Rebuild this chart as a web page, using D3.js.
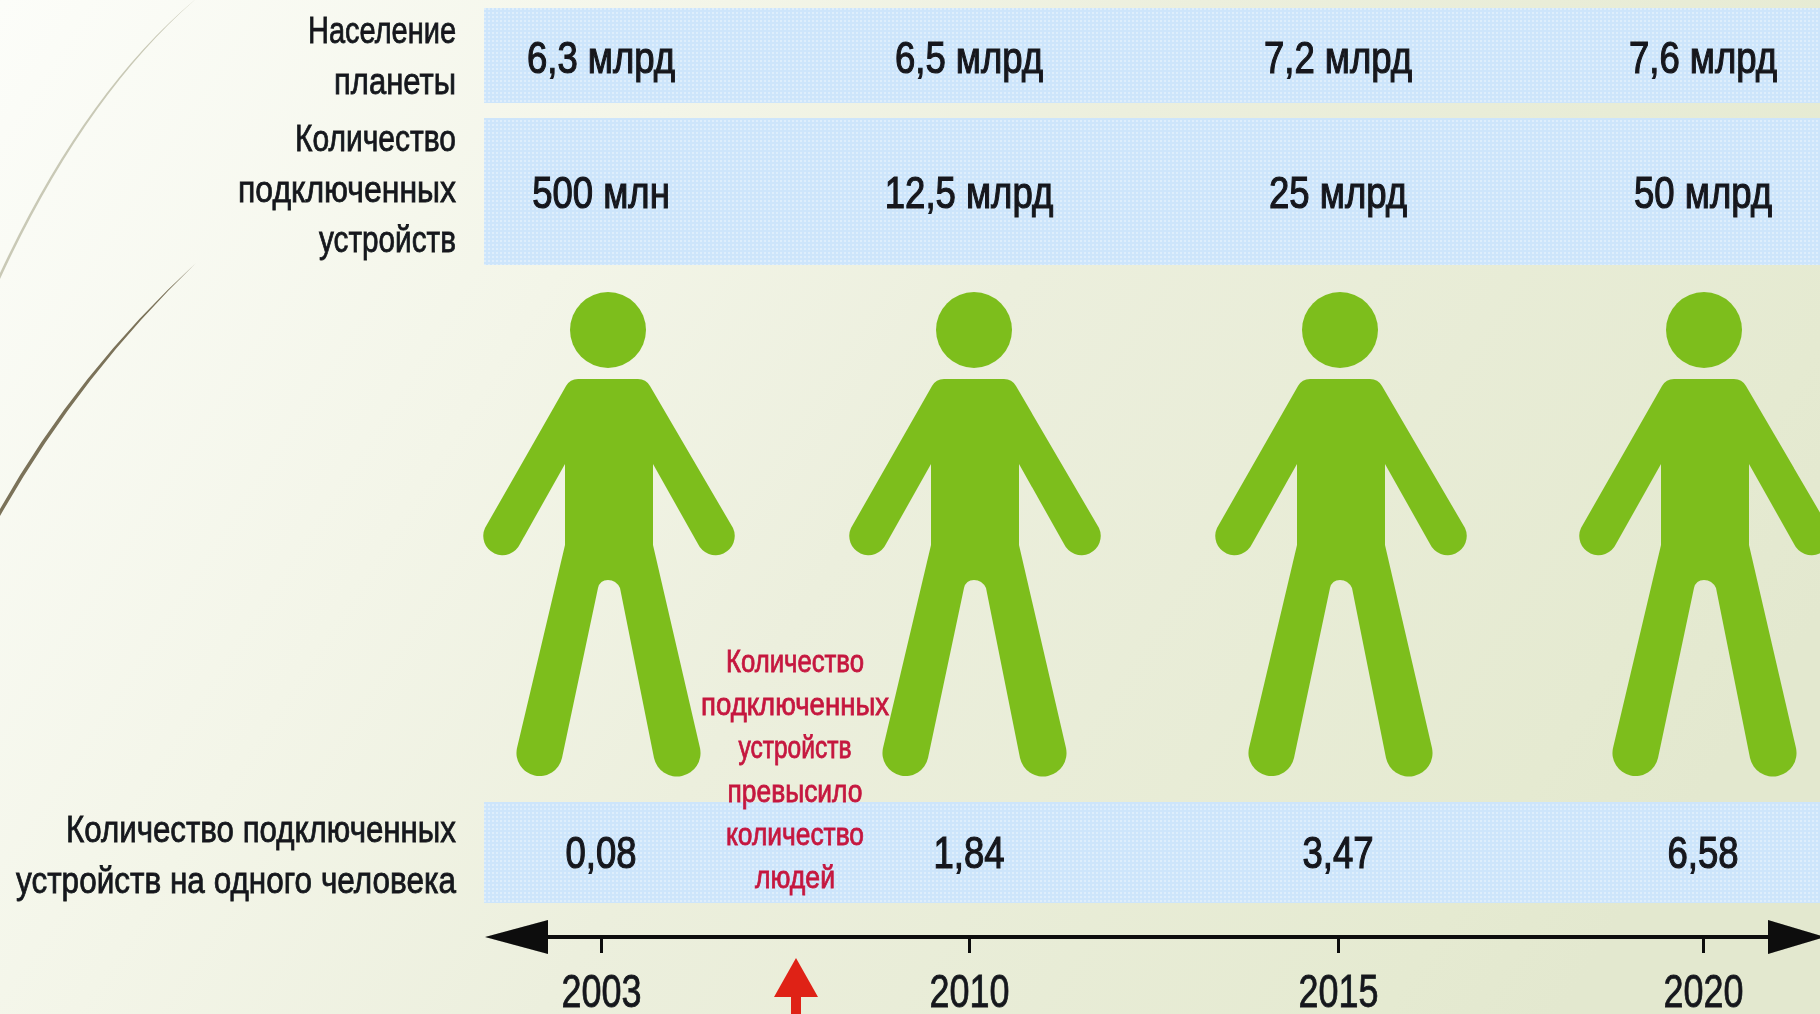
<!DOCTYPE html>
<html>
<head>
<meta charset="utf-8">
<script src="https://cdn.jsdelivr.net/npm/d3@7"></script>
<style>
  html, body { margin: 0; padding: 0; overflow: hidden; background: #f3f5e8; }
  text { font-family: "Liberation Sans", sans-serif; }
</style>
</head>
<body>
<script>
// Chart values
const years = ['2003', '2010', '2015', '2020'];
const population = ['6,3 млрд', '6,5 млрд', '7,2 млрд', '7,6 млрд'];
const devices = ['500 млн', '12,5 млрд', '25 млрд', '50 млрд'];
const perPerson = ['0,08', '1,84', '3,47', '6,58'];
const populationLabel = ['Население', 'планеты'];
const devicesLabel = ['Количество', 'подключенных', 'устройств'];
const perPersonLabel = ['Количество подключенных', 'устройств на одного человека'];
const crossoverNote = ['Количество', 'подключенных', 'устройств', 'превысило', 'количество', 'людей'];

const width = 1820;
const height = 1014;

const svg = d3.select('body')
  .append('svg')
  .attr('width', width)
  .attr('height', height)
  .style('display', 'block');

const defs = svg.append('defs');

// Page background
const bg = defs.append('linearGradient')
  .attr('id', 'bg')
  .attr('gradientUnits', 'userSpaceOnUse')
  .attr('x1', 0).attr('y1', 0)
  .attr('x2', 1560).attr('y2', 1014);
bg.append('stop').attr('offset', 0).attr('stop-color', '#fcfdf9');
bg.append('stop').attr('offset', 0.33).attr('stop-color', '#f3f5e8');
bg.append('stop').attr('offset', 0.54).attr('stop-color', '#ecefdd');
bg.append('stop').attr('offset', 0.92).attr('stop-color', '#e5ead1');
bg.append('stop').attr('offset', 1).attr('stop-color', '#e3e8cf');

// Dither of the blue bands
const dither = defs.append('pattern')
  .attr('id', 'dither')
  .attr('patternUnits', 'userSpaceOnUse')
  .attr('width', 4).attr('height', 4);
dither.append('rect').attr('width', 4).attr('height', 4).attr('fill', '#cde5fb');
dither.append('rect').attr('width', 2).attr('height', 2).attr('fill', '#deeefc');

// The source is an upscaled bitmap, so text and figures are a little soft
const soft = defs.append('filter').attr('id', 'soft')
  .attr('x', '-5%').attr('y', '-5%').attr('width', '110%').attr('height', '110%');
soft.append('feGaussianBlur').attr('stdDeviation', 0.7);

svg.append('rect')
  .attr('width', width)
  .attr('height', height)
  .attr('fill', 'url(#bg)');

// Decorative slide curves, top left
svg.append('path')
  .attr('d', 'M197,-2 Q85,95 0,279 L0,273 Q85,91 197,-2 Z')
  .attr('fill', '#c9c9b6');
svg.append('path')
  .attr('d', 'M196,263 Q80,375 0,516 L0,509 Q78,371 196,263 Z')
  .attr('fill', '#7b7259');

// Squeeze a text line to a width, there is no condensed font installed
function fit(sel, widthOf) {
  sel.attr('textLength', widthOf).attr('lengthAdjust', 'spacingAndGlyphs');
}

// Scales, the columns of the source are not quite evenly spaced
const xScale = d3.scaleOrdinal().domain(years).range([601, 969, 1338, 1703]);
const figureScale = d3.scaleOrdinal().domain(years).range([608, 974, 1340, 1704]);

// Table rows
const rows = [
  { id: 'population', top: 8, bottom: 103, baseline: 73, values: population, label: populationLabel,
    labelBase: [43, 94], labelWidth: [148, 122] },
  { id: 'devices', top: 118, bottom: 265, baseline: 208, values: devices, label: devicesLabel,
    labelBase: [151, 202, 252], labelWidth: [161, 218, 137] },
  { id: 'per-person', top: 802, bottom: 903, baseline: 868, values: perPerson, label: perPersonLabel,
    labelBase: [842, 893], labelWidth: [390, 440] }
];

// Bands stay outside the soft group so the dither survives
svg.selectAll('.band')
  .data(rows)
  .enter()
  .append('rect')
  .attr('class', 'band')
  .attr('x', 484)
  .attr('y', d => d.top)
  .attr('width', width - 484 + 10)
  .attr('height', d => d.bottom - d.top)
  .attr('fill', 'url(#dither)');

const chart = svg.append('g').attr('filter', 'url(#soft)');

rows.forEach(row => {
  chart.selectAll('.value-' + row.id)
    .data(row.values)
    .enter()
    .append('text')
    .attr('class', 'value-' + row.id)
    .attr('x', (d, i) => xScale(years[i]))
    .attr('y', row.baseline)
    .attr('text-anchor', 'middle')
    .attr('font-size', 44)
    .attr('fill', '#14181c')
    .attr('stroke', '#14181c')
    .attr('stroke-width', 1.2)
    .text(d => d)
    .each(function() {
      d3.select(this).call(fit, this.getComputedTextLength() * 0.83);
    });

  chart.selectAll('.label-' + row.id)
    .data(row.label)
    .enter()
    .append('text')
    .attr('class', 'label-' + row.id)
    .attr('x', 456)
    .attr('y', (d, i) => row.labelBase[i])
    .attr('text-anchor', 'end')
    .attr('font-size', 37)
    .attr('fill', '#14181c')
    .attr('stroke', '#14181c')
    .attr('stroke-width', 0.8)
    .text(d => d)
    .call(fit, (d, i) => row.labelWidth[i]);
});

// Person figures, path is relative to the centre of the head
const bodyPath = 'M-30,49 Q-38,49 -42,56 L-123,198 A19,19 0 0 0 -88,214 L-43,134 L-43,215 '
  + 'L-91,418 A23,23 0 0 0 -46,428 L-10,258 Q-8,250 0,250 Q8,250 12,258 L46,428 A23,23 0 0 0 92,418 L45,215 L45,134 '
  + 'L90,214 A19,19 0 0 0 125,198 L42,56 Q38,49 30,49 Z';

const figures = chart.selectAll('.figure')
  .data(years)
  .enter()
  .append('g')
  .attr('class', 'figure')
  .attr('transform', d => 'translate(' + figureScale(d) + ',330)')
  .attr('fill', '#7dbe1f');

figures.append('circle').attr('r', 38);
figures.append('path').attr('d', bodyPath);

// Red note about the crossover
const noteBase = [672, 715, 758, 802, 845, 888];
const noteWidth = [138, 188, 113, 135, 138, 80];
chart.selectAll('.note')
  .data(crossoverNote)
  .enter()
  .append('text')
  .attr('class', 'note')
  .attr('x', 795)
  .attr('y', (d, i) => noteBase[i])
  .attr('text-anchor', 'middle')
  .attr('font-size', 31)
  .attr('fill', '#c5163f')
  .attr('stroke', '#c5163f')
  .attr('stroke-width', 0.8)
  .text(d => d)
  .call(fit, (d, i) => noteWidth[i]);

// Time axis
const axisY = 937;
const xAxis = d3.axisBottom(xScale).tickSize(16).tickPadding(21);

const axisG = chart.append('g')
  .attr('transform', 'translate(0,' + axisY + ')')
  .call(xAxis);

axisG.select('.domain').remove();
axisG.selectAll('.tick line').attr('stroke', '#111').attr('stroke-width', 3);
axisG.selectAll('.tick text')
  .attr('font-size', 46)
  .attr('font-family', '"Liberation Sans", sans-serif')
  .attr('fill', '#14181c')
  .attr('stroke', '#14181c')
  .attr('stroke-width', 0.8)
  .call(fit, 80);

chart.append('line')
  .attr('x1', 540).attr('x2', 1775)
  .attr('y1', axisY).attr('y2', axisY)
  .attr('stroke', '#111')
  .attr('stroke-width', 4);

chart.append('path')
  .attr('d', 'M485,' + axisY + ' L548,' + (axisY - 17) + ' L548,' + (axisY + 17) + ' Z')
  .attr('fill', '#0a0a0a');
chart.append('path')
  .attr('d', 'M1825,' + axisY + ' L1768,' + (axisY - 17) + ' L1768,' + (axisY + 17) + ' Z')
  .attr('fill', '#0a0a0a');

// Red arrow under the note
chart.append('path')
  .attr('d', 'M796,958 L818,997 L801,997 L801,1020 L791,1020 L791,997 L774,997 Z')
  .attr('fill', '#df2419');
</script>
</body>
</html>
